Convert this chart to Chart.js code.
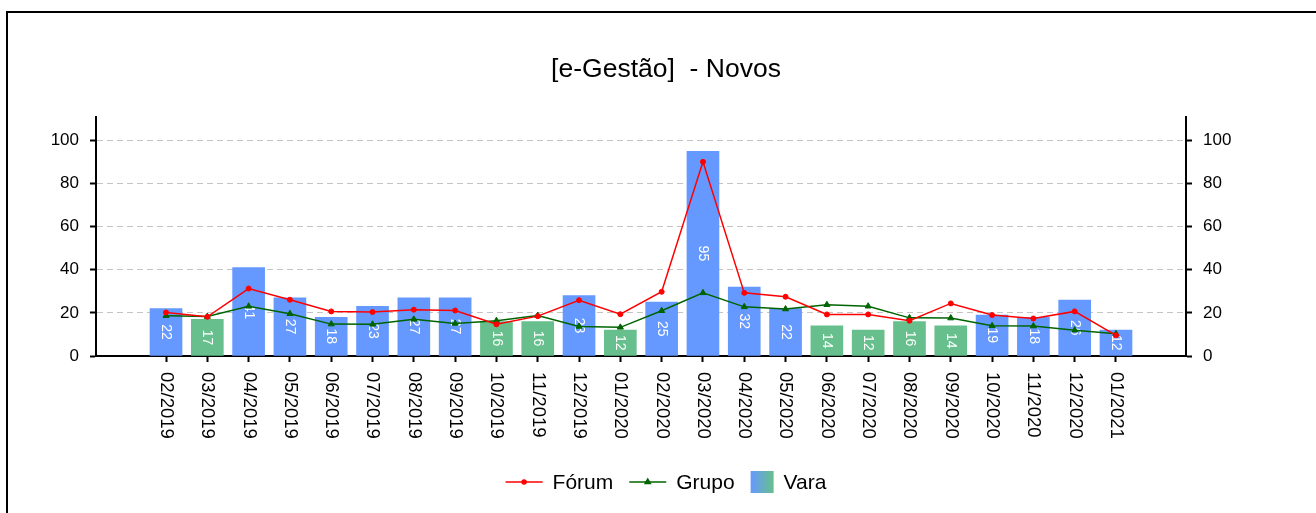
<!DOCTYPE html>
<html>
<head>
<meta charset="utf-8">
<title>e-Gestão - Novos</title>
<script src="https://cdn.jsdelivr.net/npm/chart.js@4.4.0/dist/chart.umd.min.js"></script>
<style>
  html, body { margin: 0; padding: 0; background: #fff; overflow: hidden; }
  .frame {
    position: absolute;
    left: 6px;
    top: 11px;
    width: 1316px;
    height: 520px;
    border: 2px solid #000;
  }
  canvas { display: block; }
</style>
</head>
<body>
<div class="frame"><canvas id="chart" width="1316" height="520"></canvas></div>
<script>
const months = [
  '02/2019', '03/2019', '04/2019', '05/2019', '06/2019', '07/2019',
  '08/2019', '09/2019', '10/2019', '11/2019', '12/2019', '01/2020',
  '02/2020', '03/2020', '04/2020', '05/2020', '06/2020', '07/2020',
  '08/2020', '09/2020', '10/2020', '11/2020', '12/2020', '01/2021'
];
const vara = [22, 17, 41, 27, 18, 23, 27, 27, 16, 16, 28, 12, 25, 95, 32, 22, 14, 12, 16, 14, 19, 18, 26, 12];
const forum = [20.2, 18.2, 31.3, 26.1, 20.7, 20.4, 21.5, 21.1, 14.7, 18.5, 25.9, 19.4, 29.8, 90.1, 29.3, 27.5, 19.3, 19.3, 16.4, 24.4, 19.0, 17.4, 20.7, 9.6];
const grupo = [18.7, 18.3, 23.1, 19.6, 14.8, 14.7, 17.0, 15.1, 16.4, 18.8, 13.7, 13.3, 21.0, 29.3, 22.8, 21.8, 23.8, 23.1, 17.7, 17.6, 14.0, 13.9, 12.0, 10.3];
const yTicks = [0, 20, 40, 60, 80, 100];

const FONT = '"Liberation Sans", Arial, sans-serif';
const BLUE = '#6699ff';
const GREEN = '#66bf8c';
const LEGEND_Y = 469;

// bars below the group average are green, the rest blue
const barColors = vara.map((v, i) => (v < grupo[i] ? GREEN : BLUE));

const points = arr => arr.map((v, i) => ({ x: i, y: v }));

// month names under the axis, turned a quarter clockwise
const monthLabels = {
  id: 'monthLabels',
  afterDraw(chart) {
    const ctx = chart.ctx;
    const xs = chart.scales.x;
    ctx.save();
    ctx.font = '18.5px ' + FONT;
    ctx.fillStyle = '#000';
    ctx.textAlign = 'left';
    ctx.textBaseline = 'middle';
    months.forEach((m, i) => {
      ctx.save();
      ctx.translate(xs.getPixelForValue(i), xs.top + 16);
      ctx.rotate(Math.PI / 2);
      ctx.fillText(m, 0, 0);
      ctx.restore();
    });
    ctx.restore();
  }
};

// value written inside each bar (drawn before the lines go over it)
const barValues = {
  id: 'barValues',
  afterDatasetDraw(chart, args) {
    if (args.meta.type !== 'bar') return;
    const ctx = chart.ctx;
    ctx.save();
    ctx.font = '14px ' + FONT;
    ctx.fillStyle = '#fff';
    ctx.textAlign = 'center';
    ctx.textBaseline = 'middle';
    args.meta.data.forEach((bar, i) => {
      ctx.save();
      ctx.translate(bar.x, (bar.y + bar.base) / 2);
      ctx.rotate(Math.PI / 2);
      ctx.fillText(String(vara[i]), 0, 0);
      ctx.restore();
    });
    ctx.restore();
  }
};

// legend row: line samples with markers, gradient box for the bars
const legendRow = {
  id: 'legendRow',
  afterDraw(chart) {
    const ctx = chart.ctx;
    const sets = chart.data.datasets;
    ctx.save();
    ctx.font = '21px ' + FONT;
    ctx.textBaseline = 'middle';
    ctx.textAlign = 'left';

    const widths = sets.map(ds => (ds.type === 'line' ? 37 : 23) + 10 + ctx.measureText(ds.label).width);
    const total = widths.reduce((a, b) => a + b, 0) + 16 * (sets.length - 1);
    let x = chart.width / 2 - total / 2;

    sets.forEach((ds, i) => {
      if (ds.type === 'line') {
        ctx.strokeStyle = ds.borderColor;
        ctx.lineWidth = 1.5;
        ctx.beginPath();
        ctx.moveTo(x, LEGEND_Y);
        ctx.lineTo(x + 37, LEGEND_Y);
        ctx.stroke();
        ctx.fillStyle = ds.borderColor;
        Chart.helpers.drawPoint(ctx, {
          pointStyle: ds.pointStyle, radius: ds.pointRadius - 0.5, rotation: 0, borderWidth: 1
        }, x + 18.5, LEGEND_Y);
        ctx.fillStyle = '#000';
        ctx.fillText(ds.label, x + 47, LEGEND_Y + 1);
      } else {
        const g = ctx.createLinearGradient(x, 0, x + 23, 0);
        g.addColorStop(0, BLUE);
        g.addColorStop(1, GREEN);
        ctx.fillStyle = g;
        ctx.fillRect(x, LEGEND_Y - 11, 23, 22);
        ctx.fillStyle = '#000';
        ctx.fillText(ds.label, x + 33, LEGEND_Y + 1);
      }
      x += widths[i] + 16;
    });
    ctx.restore();
  }
};

const yAxis = (position, width, onArea) => ({
  position: position,
  min: 0,
  max: 111,
  afterBuildTicks: s => { s.ticks = yTicks.map(v => ({ value: v })); },
  afterFit: s => { s.width = width; },
  ticks: {
    color: '#000',
    padding: 11,
    font: { size: 17, family: FONT }
  },
  grid: {
    drawOnChartArea: onArea,
    color: c => (c.tick && c.tick.value === 0 ? 'rgba(0,0,0,0)' : '#c4c4c4'),
    lineWidth: 1,
    tickLength: 6,
    tickWidth: 2,
    tickColor: '#000'
  },
  border: { display: true, color: '#000', width: 2, dash: [6, 4] }
});

new Chart(document.getElementById('chart'), {
  type: 'bar',
  data: {
    datasets: [
      {
        type: 'line',
        label: 'Fórum',
        data: points(forum),
        borderColor: '#ff0000',
        backgroundColor: '#ff0000',
        borderWidth: 1.5,
        pointStyle: 'circle',
        pointRadius: 2.5,
        pointBorderWidth: 1,
        order: 0
      },
      {
        type: 'line',
        label: 'Grupo',
        data: points(grupo),
        borderColor: '#006400',
        backgroundColor: '#006400',
        borderWidth: 1.5,
        pointStyle: 'triangle',
        pointRadius: 3.5,
        pointBorderWidth: 1,
        order: 1
      },
      {
        type: 'bar',
        label: 'Vara',
        data: points(vara),
        backgroundColor: barColors,
        barThickness: 32,
        order: 2
      }
    ]
  },
  options: {
    responsive: false,
    animation: false,
    layout: { padding: 0 },
    scales: {
      x: {
        type: 'linear',
        offset: false,
        min: -1.695,
        max: 24.695,
        afterBuildTicks: s => { s.ticks = months.map((m, i) => ({ value: i })); },
        afterFit: s => { s.height = 177; },
        ticks: { display: false },
        grid: {
          offset: false,
          drawOnChartArea: false,
          drawTicks: true,
          tickLength: 6,
          tickWidth: 2,
          tickColor: '#000'
        },
        border: { display: true, color: '#000', width: 2 }
      },
      y: yAxis('left', 88, true),
      y2: yAxis('right', 138, false)
    },
    plugins: {
      legend: { display: false },
      tooltip: { enabled: false },
      title: {
        display: true,
        text: '[e-Gestão]  - Novos',
        color: '#000',
        font: { size: 26.5, weight: 'normal', family: FONT },
        padding: { top: 41, bottom: 31 }
      }
    }
  },
  plugins: [barValues, monthLabels, legendRow]
});
</script>
</body>
</html>
